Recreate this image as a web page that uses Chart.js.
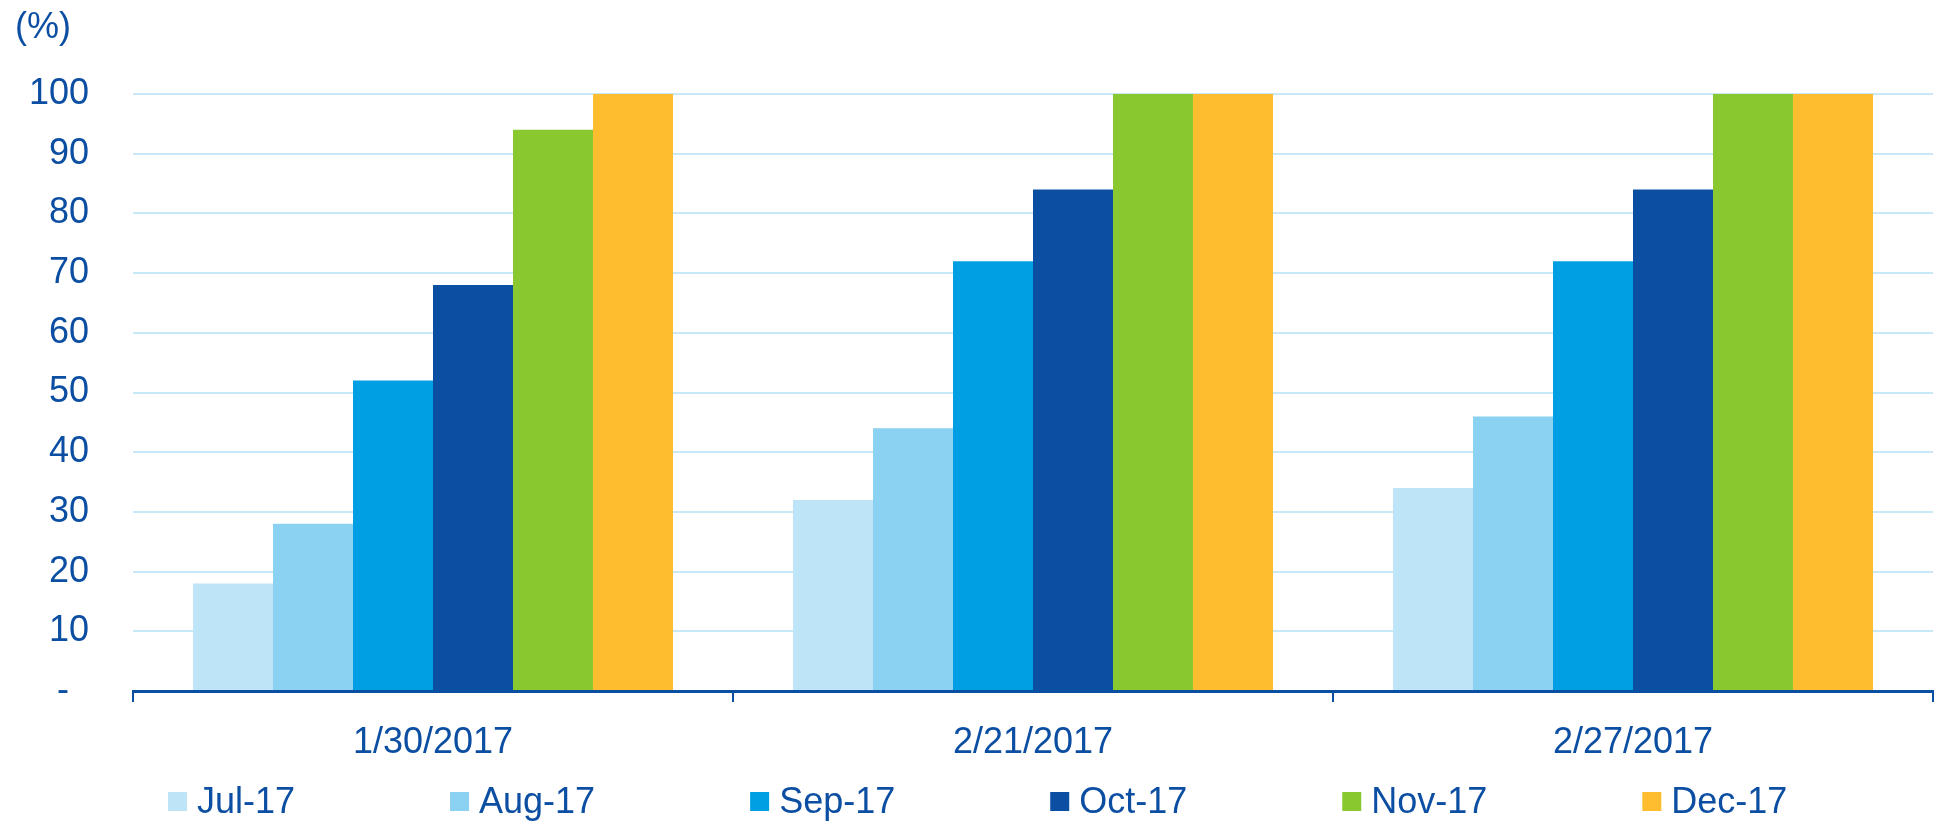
<!DOCTYPE html>
<html>
<head>
<meta charset="utf-8">
<script src="https://cdn.jsdelivr.net/npm/chart.js@4.4.1/dist/chart.umd.min.js"></script>
<style>
  html, body { margin: 0; padding: 0; background: #fff; }
  #wrap { position: relative; width: 1939px; height: 821px; }
</style>
</head>
<body>
<div id="wrap"><canvas id="chart" width="1939" height="821"></canvas></div>
<script>
// Data
const categories = ['1/30/2017', '2/21/2017', '2/27/2017'];
const seriesNames = ['Jul-17', 'Aug-17', 'Sep-17', 'Oct-17', 'Nov-17', 'Dec-17'];
const jul17 = [18, 32, 34];
const aug17 = [28, 44, 46];
const sep17 = [52, 72, 72];
const oct17 = [68, 84, 84];
const nov17 = [94, 100, 100];
const dec17 = [100, 100, 100];
const seriesColors = ['#bde4f7', '#8bd1f2', '#009fe3', '#0b4fa3', '#89c82e', '#fdbd2e'];

const textColor = '#0b4ea2';
const fontFamily = '"Liberation Sans", Arial, sans-serif';

Chart.defaults.font.family = fontFamily;
Chart.defaults.font.size = 36;
Chart.defaults.color = textColor;

// unit label "(%)" above the y axis + legend row along the bottom
const extrasPlugin = {
    id: 'extras',
    afterDraw(chart) {
        const ctx = chart.ctx;
        ctx.save();
        ctx.font = '36px ' + fontFamily;
        ctx.fillStyle = textColor;
        ctx.textAlign = 'left';
        ctx.textBaseline = 'alphabetic';
        ctx.fillText('(%)', 15, 38);

        // legend
        let x = 168;
        chart.data.datasets.forEach(ds => {
            ctx.fillStyle = ds.backgroundColor;
            ctx.fillRect(x, 792, 19, 19);
            ctx.fillStyle = textColor;
            ctx.fillText(ds.label, x + 29, 813);
            x += 19 + 18 + ctx.measureText(ds.label).width + 147;
        });
        ctx.restore();
    }
};

const seriesValues = [jul17, aug17, sep17, oct17, nov17, dec17];

const ctx = document.getElementById('chart').getContext('2d');
const chart = new Chart(ctx, {
    type: 'bar',
    data: {
        labels: categories,
        datasets: seriesNames.map((name, i) => ({
            label: name,
            data: seriesValues[i],
            backgroundColor: seriesColors[i],
            borderWidth: 0,
            categoryPercentage: 0.8,
            barPercentage: 1.0
        }))
    },
    options: {
        responsive: false,
        animation: false,
        layout: {
            padding: { left: 0, right: 6, top: 94, bottom: 45 }
        },
        plugins: {
            legend: { display: false },
            tooltip: { enabled: false }
        },
        scales: {
            x: {
                grid: {
                    offset: true,
                    drawOnChartArea: false,
                    drawTicks: true,
                    tickLength: 11,
                    color: '#0b4fa3',
                    lineWidth: 2
                },
                border: {
                    display: true,
                    color: '#0b4fa3',
                    width: 3
                },
                ticks: {
                    padding: 19,
                    color: textColor,
                    font: { size: 36 }
                },
                afterFit(scale) {
                    scale.height = 85;
                }
            },
            y: {
                min: 0,
                max: 100,
                ticks: {
                    stepSize: 10,
                    padding: 44,
                    color: textColor,
                    font: { size: 36 },
                    callback: function(value) {
                        return value === 0 ? '-  ' : value;
                    }
                },
                grid: {
                    drawTicks: false,
                    color: '#c8e8f8',
                    lineWidth: 2
                },
                border: { display: false },
                afterFit(scale) {
                    scale.width = 133;
                }
            }
        }
    },
    plugins: [extrasPlugin]
});
</script>
</body>
</html>
